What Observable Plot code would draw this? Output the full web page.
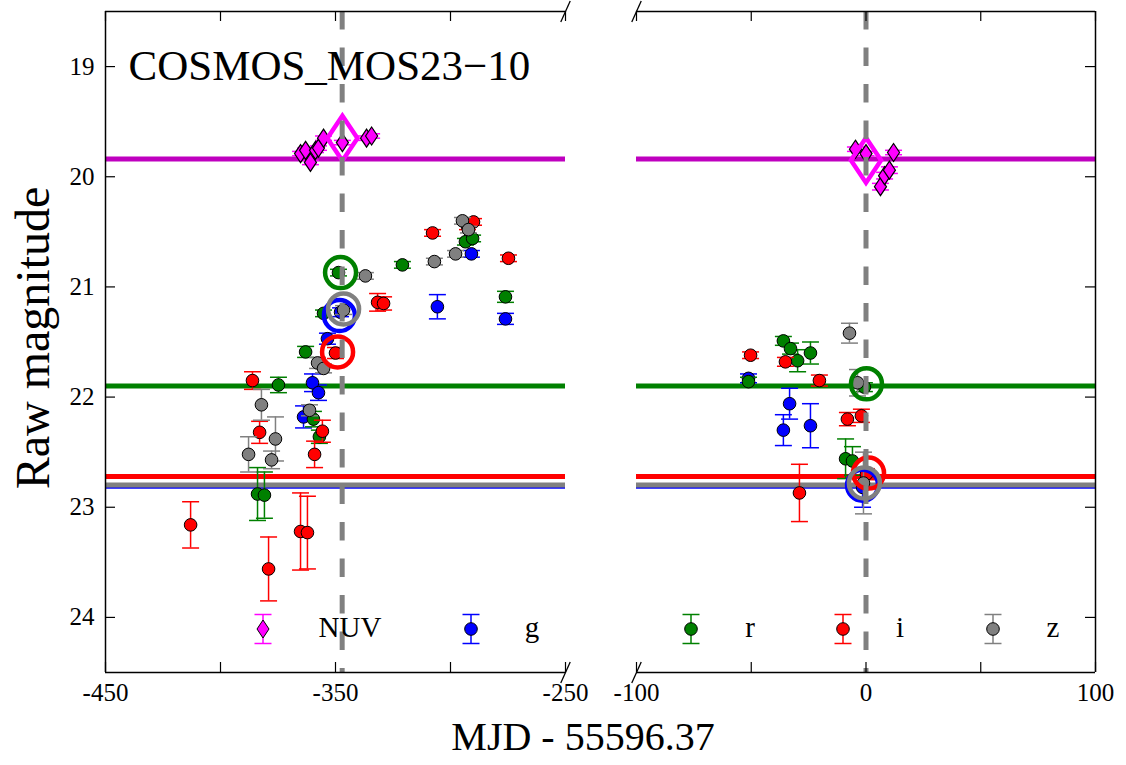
<!DOCTYPE html>
<html><head><meta charset="utf-8">
<script src="https://cdn.jsdelivr.net/npm/d3@7"></script>
<script src="https://cdn.jsdelivr.net/npm/@observablehq/plot@0.6"></script>
<style>
body{margin:0;background:#fff;}
#wrap{position:relative;width:1126px;height:765px;font-family:"Liberation Serif","Times New Roman",serif;color:#000;}
.abs{position:absolute;white-space:nowrap;line-height:1;}
</style></head><body><div id="wrap"></div>
<script>
// ---------- data (x = MJD - 55596.37, mag, err) ----------
const bandNUV = [[-365.2,19.79,0.02],[-363.0,19.76,0.02],[-360.9,19.87,0.02],[-358.7,19.76,0.02],[-357.4,19.74,0.02],[-355.2,19.65,0.02],[-347.0,19.69,0.02],[-336.5,19.65,0.02],[-334.3,19.63,0.02],
  [-4.6,19.75,0.02],[0.0,19.79,0.02],[6.3,20.09,0.03],[8.1,19.99,0.03],[10.2,19.94,0.03],[12.0,19.78,0.02]];
const bandG = [[-363.9,22.18,0.10],[-360.0,21.87,0.08],[-357.4,21.96,0.07],[-353.5,21.47,0.05],[-347.8,21.23,0.04],[-305.7,21.18,0.11],[-290.9,20.70,0.03],[-276.1,21.29,0.05],
  [-51.2,21.83,0.04],[-33.3,22.06,0.14],[-36.0,22.30,0.14],[-24.2,22.26,0.20],[-1.5,22.82,0.18]];
const bandR = [[-383.9,22.88,0.24],[-380.9,22.89,0.21],[-374.8,21.89,0.07],[-363.0,21.59,0.05],[-359.6,22.20,0.07],[-357.0,22.36,0.06],[-355.2,21.24,0.03],[-348.7,20.87,0.03],[-320.9,20.80,0.03],[-293.5,20.59,0.03],[-290.4,20.56,0.03],[-276.1,21.09,0.05],
  [-36.0,21.49,0.04],[-32.9,21.56,0.05],[-29.8,21.67,0.10],[-24.2,21.60,0.10],[-51.2,21.86,0.04],[-8.9,22.56,0.18],[-5.9,22.58,0.13],[-0.7,21.91,0.04]];
const bandI = [[-413.0,23.16,0.21],[-386.1,21.85,0.08],[-383.0,22.32,0.10],[-379.1,23.56,0.29],[-365.2,23.22,0.35],[-362.2,23.23,0.33],[-359.1,22.52,0.12],[-355.7,22.31,0.10],[-350.0,21.60,0.05],[-331.7,21.14,0.08],[-329.1,21.15,0.06],[-307.8,20.51,0.03],[-292.6,20.45,0.03],[-290.0,20.41,0.03],[-274.8,20.74,0.03],
  [-50.3,21.62,0.03],[-35.1,21.68,0.04],[-20.3,21.85,0.05],[-8.1,22.20,0.06],[-2.0,22.17,0.06],[-29.0,22.87,0.26],[0.2,22.70,0.05]];
const bandZ = [[-387.8,22.52,0.16],[-382.2,22.07,0.14],[-377.8,22.57,0.08],[-376.1,22.38,0.20],[-361.3,22.12,0.05],[-357.8,21.69,0.05],[-355.2,21.74,0.04],[-346.5,21.21,0.04],[-337.0,20.90,0.03],[-307.0,20.77,0.03],[-297.8,20.70,0.03],[-294.8,20.40,0.03],[-292.2,20.48,0.03],
  [-7.2,21.42,0.09],[-3.7,21.87,0.12],[-1.1,22.78,0.28]];
// large open markers at the reference epochs
const peakNUV = [[-347.0,19.65],[0.0,19.85]];
const peakG = [[-348.3,21.26],[-1.5,22.80]];
const peakR = [[-347.8,20.87],[0.2,21.88]];
const peakI = [[-349.1,21.59],[1.1,22.69]];
const peakZ = [[-346.5,21.20],[-0.7,22.78]];
// baseline (reference) magnitudes
const baseBands = ["NUV","g","r","i","z"];
const baseMags = [19.84, 22.81, 21.90, 22.72, 22.797];
// reference epochs (dashed lines)
const peakT = [-347.1, 0];
// axes
const leftDomain = [-450, -250], rightDomain = [-100, 100], yDomain = [18.5, 24.5];
const leftTicks = [-450, -400, -350, -300, -250], leftLabels = [-450, -350, -250];
const rightTicks = [-100, -50, 0, 50, 100], rightLabels = [-100, 0, 100];
const yTicks = [19, 20, 21, 22, 23, 24];
const title = "COSMOS_MOS23\u221210";
const xLabel = "MJD - 55596.37", yLabel = "Raw magnitude";
const legendBands = ["NUV","g","r","i","z"];

// ---------- styles ----------
const bandData = {NUV: bandNUV, g: bandG, r: bandR, i: bandI, z: bandZ};
const peakData = {NUV: peakNUV, g: peakG, r: peakR, i: peakI, z: peakZ};
const colors = {NUV: "#ff00ff", g: "#0000ff", r: "#008000", i: "#ff0000", z: "#808080"};
const lineColors = {NUV: "#bf00bf", g: "#0000ff", r: "#008000", i: "#ff0000", z: "#808080"};
const W = 1126, H = 765, mT = 11, mB = 93;

const capSym = {draw(ctx, size){ const r = Math.sqrt(size/Math.PI); ctx.moveTo(-r,0); ctx.lineTo(r,0); }};
const diamondSym = {draw(ctx, size){ const r = Math.sqrt(size/Math.PI); const w = 0.67*r; ctx.moveTo(0,-r); ctx.lineTo(w,0); ctx.lineTo(0,r); ctx.lineTo(-w,0); ctx.closePath(); }};
const slashSym = {draw(ctx, size){ const r = Math.sqrt(size/Math.PI); ctx.moveTo(-0.45*r, r); ctx.lineTo(0.45*r, -r); }};

function panel(domain, mL, mR, isLeft) {
  const fw = W - mL - mR, fh = H - mT - mB;
  const tx = 10*(domain[1]-domain[0])/fw, ty = 10*(yDomain[1]-yDomain[0])/fh;
  const inD = d => d[0] >= domain[0] && d[0] <= domain[1];
  const marks = [];
  baseBands.forEach((b, k) => marks.push(Plot.ruleY([baseMags[k]], {stroke: lineColors[b], strokeWidth: 5})));
  for (const b of legendBands) {
    const data = bandData[b].filter(inD), col = colors[b];
    marks.push(Plot.ruleX(data, {x: d => d[0], y1: d => d[1]-d[2], y2: d => d[1]+d[2], stroke: col, strokeWidth: 1.5}));
    marks.push(Plot.dot(data, {x: d => d[0], y: d => d[1]-d[2], symbol: capSym, r: 8.5, stroke: col, strokeWidth: 1.5, fill: "none"}));
    marks.push(Plot.dot(data, {x: d => d[0], y: d => d[1]+d[2], symbol: capSym, r: 8.5, stroke: col, strokeWidth: 1.5, fill: "none"}));
    if (b === "NUV") marks.push(Plot.dot(data, {x: d => d[0], y: d => d[1], symbol: diamondSym, r: 9, fill: col, stroke: "black", strokeWidth: 1.2}));
    else marks.push(Plot.dot(data, {x: d => d[0], y: d => d[1], r: 6.3, fill: col, stroke: "black", strokeWidth: 1}));
  }
  for (const b of legendBands) {
    const data = peakData[b].filter(inD);
    if (b === "NUV") marks.push(Plot.dot(data, {x: d => d[0], y: d => d[1], symbol: diamondSym, r: 22.5, fill: "none", stroke: colors[b], strokeWidth: 4.5}));
    else marks.push(Plot.dot(data, {x: d => d[0], y: d => d[1], r: 15.5, fill: "none", stroke: colors[b], strokeWidth: 4.5}));
  }
  marks.push(Plot.ruleX(peakT.filter(t => t >= domain[0] && t <= domain[1]), {stroke: "#808080", strokeWidth: 5, strokeDasharray: "18.5,18"}));
  // spines
  marks.push(Plot.ruleY([yDomain[0], yDomain[1]], {stroke: "black", strokeWidth: 1.5}));
  marks.push(Plot.ruleX([isLeft ? domain[0] : domain[1]], {stroke: "black", strokeWidth: 1.5}));
  // inward ticks
  const ticks = isLeft ? leftTicks : rightTicks;
  marks.push(Plot.ruleX(ticks, {x: d => d, y1: yDomain[1], y2: yDomain[1]-ty, stroke: "black", strokeWidth: 1.2}));
  marks.push(Plot.ruleX(ticks, {x: d => d, y1: yDomain[0], y2: yDomain[0]+ty, stroke: "black", strokeWidth: 1.2}));
  const ex = isLeft ? domain[0] : domain[1], sgn = isLeft ? 1 : -1;
  marks.push(Plot.ruleY(yTicks, {y: d => d, x1: ex, x2: ex + sgn*tx, stroke: "black", strokeWidth: 1.2}));
  // break marks
  const bx = isLeft ? domain[1] : domain[0];
  marks.push(Plot.dot([[bx, yDomain[0]], [bx, yDomain[1]]], {x: d => d[0], y: d => d[1], symbol: slashSym, r: 10.5, stroke: "black", strokeWidth: 1.3, fill: "none"}));
  // tick labels
  marks.push(Plot.axisX(isLeft ? leftLabels : rightLabels, {anchor: "bottom", tickSize: 0, tickPadding: 11, tickFormat: d => String(d), label: null, fontSize: 25}));
  if (isLeft) {
    marks.push(Plot.axisY(yTicks, {anchor: "left", tickSize: 0, tickPadding: 11, tickFormat: d => String(d), label: null, fontSize: 25}));
    marks.push(Plot.text([title], {x: domain[0] + 23/fw*(domain[1]-domain[0]), y: yTicks[0], text: d => d, textAnchor: "start", lineAnchor: "middle", fontSize: 43}));
  }
  const svg = Plot.plot({
    width: W, height: H, marginLeft: mL, marginRight: mR, marginTop: mT, marginBottom: mB,
    x: {domain, axis: null}, y: {domain: yDomain, reverse: true, axis: null},
    style: {fontFamily: '"Liberation Serif", "Times New Roman", serif', fontSize: "25px", background: "transparent", overflow: "visible", color: "black"},
    marks
  });
  svg.style.position = "absolute";
  svg.style.left = "0px";
  svg.style.top = "0px";
  return svg;
}

const wrap = document.getElementById("wrap");
wrap.appendChild(panel(leftDomain, 105, W - 565, true));
wrap.appendChild(panel(rightDomain, 636, W - 1095, false));

// axis titles
const xl = document.createElement("div");
xl.className = "abs"; xl.textContent = xLabel;
Object.assign(xl.style, {left: "583px", top: "717px", fontSize: "40px", transform: "translateX(-50%)"});
wrap.appendChild(xl);
const yl = document.createElement("div");
yl.className = "abs"; yl.textContent = yLabel;
Object.assign(yl.style, {left: "33px", top: "338px", fontSize: "48px", transform: "translate(-50%,-50%) rotate(-90deg)"});
wrap.appendChild(yl);

// legend
const legendMarkerPx = [263, 471, 691, 843, 993];
const legendTextPx = [350, 532, 750, 900, 1053];
const legendY = 629;
legendBands.forEach((b, k) => {
  const col = colors[b];
  const s = d3.create("svg").attr("width", 24).attr("height", 34).attr("class", "abs")
    .style("left", (legendMarkerPx[k]-12) + "px").style("top", (legendY-17) + "px");
  s.append("line").attr("x1", 12).attr("x2", 12).attr("y1", 2.5).attr("y2", 31.5).attr("stroke", col).attr("stroke-width", 1.5);
  s.append("line").attr("x1", 3.5).attr("x2", 20.5).attr("y1", 2.5).attr("y2", 2.5).attr("stroke", col).attr("stroke-width", 1.5);
  s.append("line").attr("x1", 3.5).attr("x2", 20.5).attr("y1", 31.5).attr("y2", 31.5).attr("stroke", col).attr("stroke-width", 1.5);
  if (b === "NUV") s.append("path").attr("d", "M12,8L18,17L12,26L6,17Z").attr("fill", col).attr("stroke", "black");
  else s.append("circle").attr("cx", 12).attr("cy", 17).attr("r", 6.3).attr("fill", col).attr("stroke", "black");
  wrap.appendChild(s.node());
  const t = document.createElement("div");
  t.className = "abs"; t.textContent = b;
  Object.assign(t.style, {left: legendTextPx[k] + "px", top: legendY + "px", fontSize: "29px", transform: "translate(-50%,-55%)"});
  wrap.appendChild(t);
});
</script></body></html>
